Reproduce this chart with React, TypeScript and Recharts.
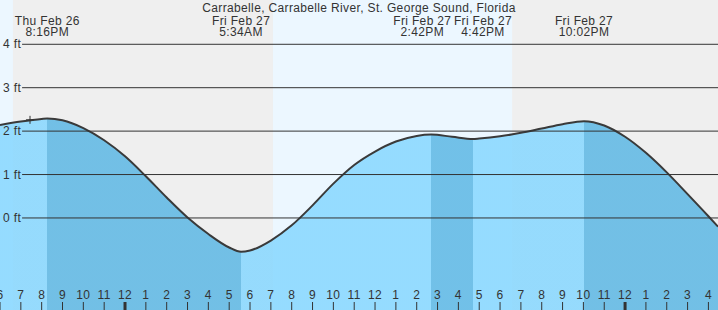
import React from 'react'
import {
  ComposedChart,
  Area,
  XAxis,
  YAxis,
  ReferenceArea,
  ReferenceLine,
  ReferenceDot,
} from 'recharts'

// hours counted from Thu Feb 26 00:00
const hours = [
  18, 19, 20, 20.27, 21, 22, 23, 24, 25, 26, 27, 28, 29, 29.57, 30, 31, 32, 33, 34, 35, 36, 37, 38,
  38.7, 39.7, 40.7, 41, 42, 43, 44, 45, 46.03, 47, 48, 49, 50, 51, 52, 52.46,
]
const levels = [
  2.14, 2.22, 2.28, 2.29, 2.25, 2.07, 1.79, 1.42, 0.96, 0.47, 0.01, -0.37, -0.68, -0.78, -0.75,
  -0.52, -0.17, 0.29, 0.79, 1.22, 1.53, 1.76, 1.89, 1.92, 1.87, 1.82, 1.83, 1.88, 1.96, 2.06, 2.16,
  2.23, 2.13, 1.87, 1.5, 1.05, 0.55, 0.04, -0.2,
]

// highs and lows
const eventHours = [20.27, 29.57, 38.7, 40.7, 46.03]
const eventDays = ['Thu Feb 26', 'Fri Feb 27', 'Fri Feb 27', 'Fri Feb 27', 'Fri Feb 27']
const eventTimes = ['8:16PM', '5:34AM', '2:42PM', '4:42PM', '10:02PM']
const eventIsHigh = [true, false, true, false, true]

// daylight
const dayStart = [18, 31.1]
const dayEnd = [18.62, 42.58]

const nowHour = 19.44
const nowLevel = 2.26

const hourTicks = [
  18, 19, 20, 21, 22, 23, 24, 25, 26, 27, 28, 29, 30, 31, 32, 33, 34, 35, 36, 37, 38, 39, 40, 41,
  42, 43, 44, 45, 46, 47, 48, 49, 50, 51, 52,
]
const feetTicks = [0, 1, 2, 3, 4]

const title = 'Carrabelle, Carrabelle River, St. George Sound, Florida'

const data = hours.map((h, i) => ({ h, level: levels[i] }))

const xMin = hours[0]
const xMax = hours[hours.length - 1]
const labelShift = [0, 0, -9, 10, 0]

const font = '"Liberation Sans", Arial, sans-serif'
const spacing = '0.35px'
const textColor = '#333'
const riseColor = 'rgb(134,215,255)'
const fallColor = 'rgb(92,183,228)'

const HourTick = (props: any) => {
  const { x, y, payload } = props
  const h = payload.value
  const v = h % 12 === 0 ? 12 : h % 12
  const bottom = 310
  return (
    <g>
      <text
        x={x}
        y={bottom - 11}
        textAnchor="middle"
        fontSize={12}
        fill={textColor}
        fontFamily={font}
        letterSpacing={spacing}
      >
        {v}
      </text>
      <line x1={x} x2={x} y1={bottom - 8} y2={bottom} stroke={textColor} strokeWidth={h % 24 === 0 ? 3 : 1} />
    </g>
  )
}

const FeetTick = (props: any) => {
  const { y, payload } = props
  return (
    <text x={3} y={y + 4} fontSize={12} fill={textColor} fontFamily={font} letterSpacing={spacing}>
      {`${payload.value} ft`}
    </text>
  )
}

const EventLabel = ({ viewBox, i }: any) => {
  const cx = viewBox.x + labelShift[i]
  return (
    <g fontSize={12} fill={textColor} fontFamily={font} letterSpacing={spacing}>
      <text x={cx} y={25} textAnchor="middle">
        {eventDays[i]}
      </text>
      <text x={cx} y={36} textAnchor="middle">
        {eventTimes[i]}
      </text>
    </g>
  )
}

const Plus = (props: any) => {
  const { cx, cy } = props
  return (
    <g stroke={textColor} strokeWidth={1}>
      <line x1={cx - 4} x2={cx + 4} y1={cy} y2={cy} />
      <line x1={cx} x2={cx} y1={cy - 4} y2={cy + 4} />
    </g>
  )
}

// fill switches colour at every high / low
const stops: { off: number; color: string }[] = []
let prev = xMin
eventHours.forEach((h, i) => {
  const color = eventIsHigh[i] ? riseColor : fallColor
  stops.push({ off: (prev - xMin) / (xMax - xMin), color })
  stops.push({ off: (h - xMin) / (xMax - xMin), color })
  prev = h
})
const lastColor = eventIsHigh[eventIsHigh.length - 1] ? fallColor : riseColor
stops.push({ off: (prev - xMin) / (xMax - xMin), color: lastColor })
stops.push({ off: 1, color: lastColor })

export default function App() {
  return (
    <div
      style={{
        position: 'absolute',
        left: 0,
        top: 0,
        width: 718,
        height: 310,
        background: '#efefef',
        overflow: 'hidden',
      }}
    >
      <ComposedChart width={718} height={310} data={data} margin={{ top: 0, right: 0, bottom: 0, left: 0 }}>
        <defs>
          <linearGradient id="tideFill" x1="0" y1="0" x2="1" y2="0">
            {stops.map((s, i) => (
              <stop key={i} offset={s.off} stopColor={s.color} />
            ))}
          </linearGradient>
        </defs>
        {dayStart.map((s, i) => (
          <ReferenceArea key={`d${i}`} x1={s} x2={dayEnd[i]} fill="#ecf7ff" fillOpacity={1} stroke="none" />
        ))}
        {feetTicks.map((f) => (
          <ReferenceLine
            key={`g${f}`}
            segment={[
              { x: 19.06, y: f },
              { x: xMax, y: f },
            ]}
            stroke="#333"
            strokeWidth={1}
          />
        ))}
        <Area
          dataKey="level"
          type="monotone"
          baseValue={-2.12}
          fill="url(#tideFill)"
          fillOpacity={0.85}
          stroke="#3a3a3a"
          strokeWidth={2}
          isAnimationActive={false}
          dot={false}
          activeDot={false}
        />
        <XAxis
          dataKey="h"
          type="number"
          domain={[xMin, xMax]}
          allowDataOverflow
          ticks={hourTicks}
          interval={0}
          mirror
          axisLine={false}
          tickLine={false}
          tick={<HourTick />}
        />
        <YAxis
          type="number"
          domain={[-2.12, 5.02]}
          allowDataOverflow
          ticks={feetTicks}
          interval={0}
          mirror
          axisLine={false}
          tickLine={false}
          tick={<FeetTick />}
        />
        {eventHours.map((h, i) => (
          <ReferenceLine
            key={`e${i}`}
            x={h}
            stroke="none"
            label={(p: any) => <EventLabel viewBox={p.viewBox} i={i} />}
          />
        ))}
        <ReferenceDot x={nowHour} y={nowLevel} r={4} shape={<Plus />} />
      </ComposedChart>
      <div
        style={{
          position: 'absolute',
          left: 0,
          top: 1,
          width: 718,
          textAlign: 'center',
          fontFamily: font,
          fontSize: 12,
          lineHeight: '14px',
          letterSpacing: spacing,
          color: textColor,
        }}
      >
        {title}
      </div>
    </div>
  )
}
